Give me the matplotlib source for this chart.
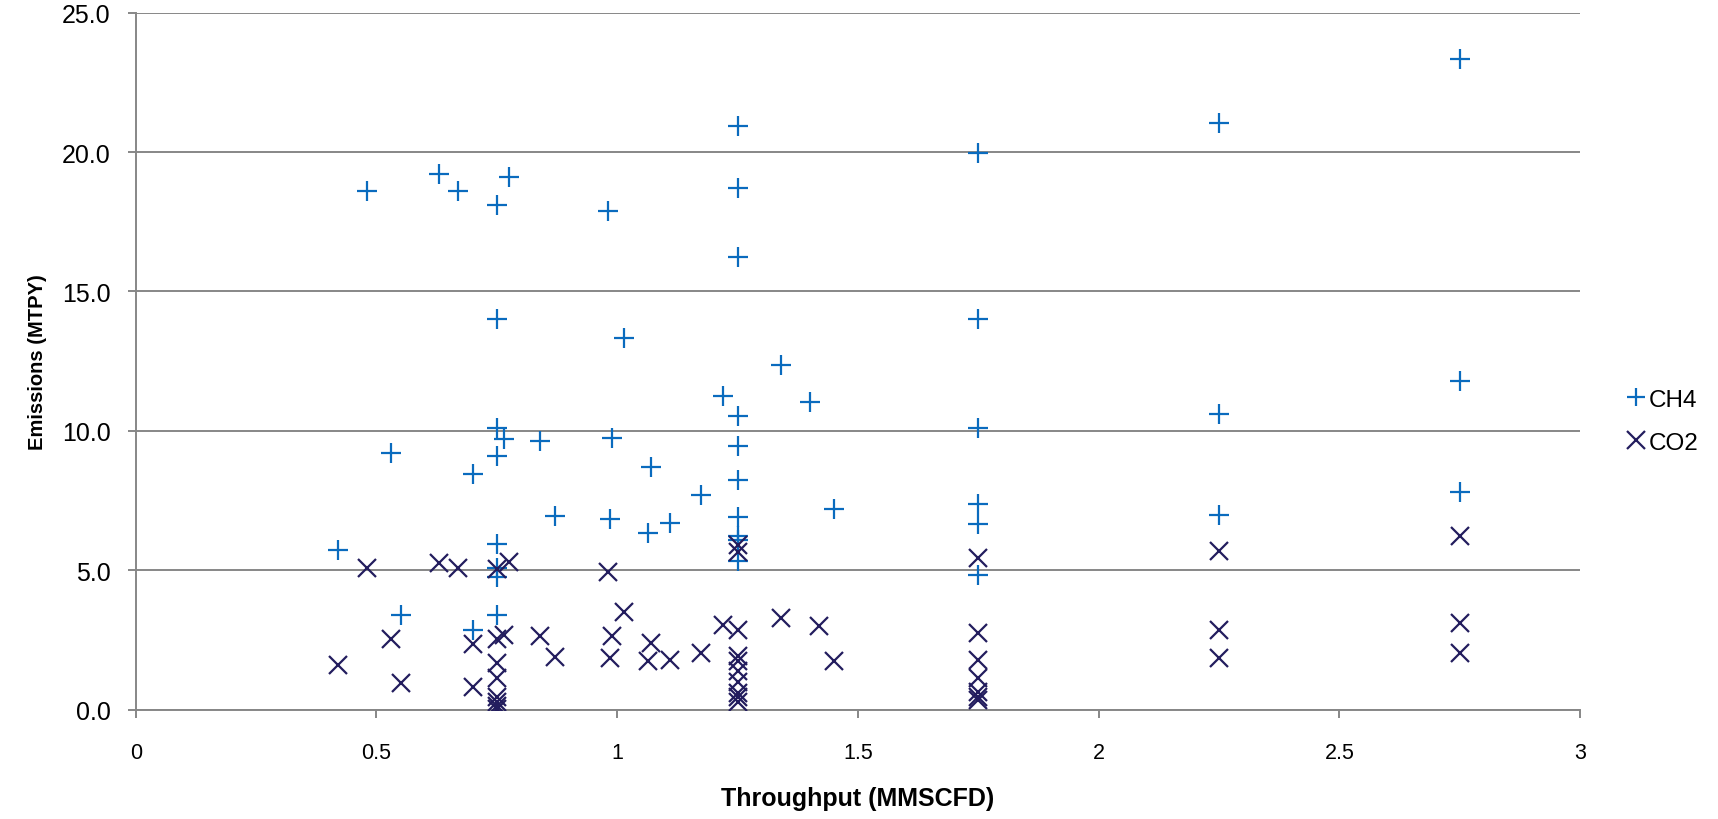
import matplotlib.pyplot as plt

plt.rcParams['font.family'] = ['Liberation Sans', 'DejaVu Sans']

# --- data ---
ch4_x = [0.42, 0.48, 0.53, 0.55, 0.63, 0.67, 0.70, 0.70, 0.75, 0.75, 0.75, 0.765, 0.75,
         0.75, 0.75, 0.75, 0.75, 0.775, 0.84, 0.87, 0.98, 0.99, 0.985, 1.015, 1.07, 1.065,
         1.11, 1.175, 1.22, 1.25, 1.25, 1.25, 1.25, 1.25, 1.25, 1.25, 1.25, 1.25, 1.25,
         1.34, 1.40, 1.45, 1.75, 1.75, 1.75, 1.75, 1.75, 1.75, 2.25, 2.25, 2.25,
         2.75, 2.75, 2.75]
ch4_y = [5.75, 18.6, 9.2, 3.4, 19.2, 18.6, 8.45, 2.85, 18.1, 14.0, 10.1, 9.7, 9.1,
         5.95, 5.1, 4.75, 3.4, 19.1, 9.65, 6.95, 17.9, 9.75, 6.85, 13.35, 8.7, 6.35,
         6.7, 7.7, 11.25, 20.95, 18.7, 16.25, 10.55, 9.45, 8.25, 6.9, 6.25, 6.1, 5.35,
         12.35, 11.05, 7.2, 19.95, 14.0, 10.1, 7.4, 6.65, 4.85, 21.05, 10.6, 7.0,
         23.35, 11.8, 7.8]

co2_x = [0.42, 0.48, 0.53, 0.55, 0.63, 0.67, 0.70, 0.70, 0.75, 0.75, 0.765, 0.75, 0.75,
         0.75, 0.75, 0.75, 0.75, 0.775, 0.84, 0.87, 0.98, 0.99, 0.985, 1.015, 1.07,
         1.065, 1.11, 1.175, 1.22, 1.25, 1.25, 1.25, 1.25, 1.25, 1.25, 1.25, 1.25, 1.25,
         1.25, 1.34, 1.42, 1.45, 1.75, 1.75, 1.75, 1.75, 1.75, 1.75, 1.75,
         2.25, 2.25, 2.25, 2.75, 2.75, 2.75]
co2_y = [1.6, 5.1, 2.55, 0.95, 5.25, 5.1, 2.35, 0.82, 5.05, 2.55, 2.7, 1.7, 1.15,
         0.45, 0.3, 0.15, 0.05, 5.3, 2.65, 1.9, 4.95, 2.65, 1.85, 3.5, 2.4,
         1.75, 1.8, 2.05, 3.05, 5.9, 5.65, 2.85, 1.95, 1.75, 1.4, 1.0, 0.6, 0.45,
         0.28, 3.3, 3.0, 1.75, 5.45, 2.75, 1.8, 1.15, 0.65, 0.45, 0.35,
         5.7, 2.85, 1.85, 6.25, 3.1, 2.05]

x_ticks = [0, 0.5, 1, 1.5, 2, 2.5, 3]
x_tick_labels = ['0', '0.5', '1', '1.5', '2', '2.5', '3']
y_ticks = [0, 5, 10, 15, 20, 25]

GRID = '#878787'

fig = plt.figure(figsize=(17.18, 8.2), dpi=100)
ax = fig.add_axes([0.079, 0.133, 0.8407, 0.8505])

ax.plot(ch4_x, ch4_y, linestyle='none', marker='+', markersize=14, markeredgewidth=1.6,
        color='#0A6BBE', label='CH4', zorder=3)
ax.plot(co2_x, co2_y, linestyle='none', marker='x', markersize=13, markeredgewidth=1.6,
        color='#231D5E', label='CO2', zorder=3)

ax.set_xlim(0, 3)
ax.set_ylim(0, 25)
ax.set_xticks(x_ticks)
ax.set_xticklabels(x_tick_labels)
ax.set_yticks(y_ticks)
ax.set_yticklabels([f'{v:.1f}' for v in y_ticks])

ax.grid(axis='y', color=GRID, linewidth=1.4)
ax.set_axisbelow(True)
for side in ['top', 'right']:
    ax.spines[side].set_visible(False)
for side in ['left', 'bottom']:
    ax.spines[side].set_color(GRID)
    ax.spines[side].set_linewidth(1.4)

ax.tick_params(axis='both', colors=GRID, length=6, width=1.4, labelcolor='black')
ax.tick_params(axis='x', pad=17, labelsize=15.5)
ax.tick_params(axis='y', pad=12, labelsize=18)

ax.set_xlabel('Throughput (MMSCFD)', fontsize=18, fontweight='bold', labelpad=17)
ax.set_ylabel('Emissions (MTPY)', fontsize=14.5, fontweight='bold', labelpad=11)

fig.legend(loc='center left', bbox_to_anchor=(0.9465, 0.485), frameon=False,
           fontsize=17.5, handlelength=0.8, handletextpad=0.15, labelspacing=0.85,
           borderpad=0, borderaxespad=0, markerscale=0.95)

plt.savefig('out.png', dpi=100)
plt.close()
